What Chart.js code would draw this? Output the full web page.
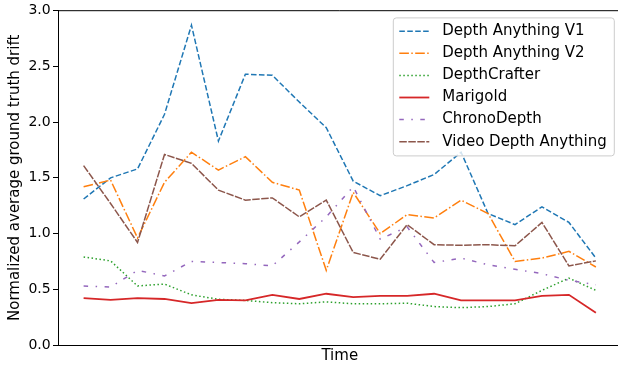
<!DOCTYPE html>
<html>
<head>
<meta charset="utf-8">
<script src="https://cdn.jsdelivr.net/npm/chart.js@4"></script>
<style>
  html, body { margin: 0; padding: 0; background: #fff; overflow: hidden; width: 618px; height: 366px; }
  canvas { display: block; }
</style>
</head>
<body>
<canvas id="driftChart" width="624" height="366"></canvas>
<script>
// time steps (no tick labels on the x axis)
const timeSteps = [1, 2, 3, 4, 5, 6, 7, 8, 9, 10, 11, 12, 13, 14, 15, 16, 17, 18, 19, 20];

const depthAnythingV1 = [1.31, 1.50, 1.58, 2.07, 2.87, 1.83, 2.43, 2.42, 2.18, 1.95, 1.47, 1.34, 1.43, 1.53, 1.73, 1.18, 1.08, 1.24, 1.10, 0.78];
const depthAnythingV2 = [1.42, 1.48, 0.96, 1.46, 1.73, 1.57, 1.69, 1.46, 1.39, 0.67, 1.37, 1.00, 1.17, 1.14, 1.30, 1.18, 0.75, 0.78, 0.84, 0.70];
const depthCrafter    = [0.79, 0.755, 0.53, 0.547, 0.45, 0.41, 0.40, 0.38, 0.37, 0.387, 0.37, 0.37, 0.375, 0.345, 0.335, 0.345, 0.37, 0.49, 0.60, 0.49];
const marigold        = [0.42, 0.405, 0.42, 0.413, 0.375, 0.405, 0.40, 0.45, 0.413, 0.46, 0.43, 0.44, 0.44, 0.46, 0.40, 0.40, 0.40, 0.44, 0.45, 0.29];
const chronoDepth     = [0.53, 0.52, 0.67, 0.62, 0.75, 0.74, 0.73, 0.71, 0.925, 1.15, 1.42, 0.95, 1.06, 0.74, 0.78, 0.72, 0.68, 0.64, 0.58, 0.54];
const videoDepthAny   = [1.61, 1.27, 0.92, 1.71, 1.63, 1.39, 1.30, 1.32, 1.15, 1.30, 0.83, 0.77, 1.08, 0.90, 0.895, 0.90, 0.89, 1.10, 0.71, 0.755];

const seriesNames = ['Depth Anything V1', 'Depth Anything V2', 'DepthCrafter', 'Marigold', 'ChronoDepth', 'Video Depth Anything'];
const seriesValues = [depthAnythingV1, depthAnythingV2, depthCrafter, marigold, chronoDepth, videoDepthAny];

const FONT = 'DejaVu Sans';
const styles = [
    { color: '#1f77b4', dash: [5.55, 2.4], width: 1.5 },
    { color: '#ff7f0e', dash: [9.6, 2.4, 1.5, 2.4], width: 1.5 },
    { color: '#2ca02c', dash: [1.5, 2.5], width: 1.5 },
    { color: '#d62728', dash: [], width: 1.8 },
    { color: '#9467bd', dash: [4.5, 7.5, 1.5, 7.5], width: 1.5 },
    { color: '#8c564b', dash: [7.5, 1.5], width: 1.5 },
];

const datasets = seriesNames.map((name, i) => ({
    label: name,
    data: seriesValues[i].map((v, j) => ({ x: timeSteps[j], y: v })),
    borderColor: styles[i].color,
    borderDash: styles[i].dash,
    borderWidth: styles[i].width,
    pointRadius: 0,
    fill: false,
    tension: 0,
    order: seriesNames.length - 1 - i, // later series on top, like matplotlib
}));

// top/right spines and a matplotlib-like legend box
const frameAndLegend = {
    id: 'frameAndLegend',
    afterDraw(chart) {
        const { ctx, chartArea: a } = chart;
        ctx.save();
        ctx.strokeStyle = '#000';
        ctx.lineWidth = 1;
        ctx.beginPath();
        ctx.moveTo(a.left, a.top);
        ctx.lineTo(a.right, a.top);
        ctx.lineTo(a.right, a.bottom);
        ctx.stroke();

        const boxW = 221, boxH = 138;
        const bx = a.right - 7.2 - boxW, by = a.top + 7.2;
        ctx.beginPath();
        ctx.roundRect(bx, by, boxW, boxH, 3);
        ctx.fillStyle = 'rgba(255,255,255,0.8)';
        ctx.fill();
        ctx.strokeStyle = '#cccccc';
        ctx.stroke();

        ctx.font = '15px "' + FONT + '"';
        ctx.textBaseline = 'middle';
        ctx.textAlign = 'left';
        seriesNames.forEach((name, i) => {
            const cy = by + 13.3 + i * 22.1;
            ctx.beginPath();
            ctx.setLineDash(styles[i].dash);
            ctx.lineWidth = styles[i].width;
            ctx.strokeStyle = styles[i].color;
            ctx.moveTo(bx + 6, cy);
            ctx.lineTo(bx + 36, cy);
            ctx.stroke();
            ctx.setLineDash([]);
            ctx.fillStyle = '#000';
            ctx.fillText(name, bx + 49, cy);
        });
        ctx.restore();
    }
};

const ctx = document.getElementById('driftChart').getContext('2d');
new Chart(ctx, {
    type: 'line',
    data: { datasets },
    options: {
        responsive: false,
        animation: false,
        devicePixelRatio: 1,
        layout: { padding: { left: 0, top: 9.5, right: 2.5, bottom: 0 } },
        plugins: {
            legend: { display: false },
            tooltip: { enabled: false },
        },
        scales: {
            x: {
                type: 'linear',
                min: 0.05,
                max: 20.95,
                ticks: { display: false },
                grid: { display: false },
                border: { display: true, color: '#000', width: 1 },
                title: {
                    display: true,
                    text: 'Time',
                    color: '#000',
                    font: { family: FONT, size: 15 },
                    padding: { top: 0, bottom: 1 },
                },
                afterFit: (s) => { s.height = 21; },
            },
            y: {
                min: 0,
                max: 3,
                ticks: {
                    stepSize: 0.5,
                    color: '#000',
                    font: { family: FONT, size: 14 },
                    padding: 2.3,
                    callback: (v) => v.toFixed(1),
                },
                grid: { drawOnChartArea: false, drawTicks: true, tickLength: 5, color: '#000', lineWidth: 1 },
                border: { display: true, color: '#000', width: 1 },
                title: {
                    display: true,
                    text: 'Normalized average ground truth drift',
                    color: '#000',
                    font: { family: FONT, size: 15 },
                    padding: { top: 6.5, bottom: 0 },
                },
                afterFit: (s) => { s.width = 58; },
            },
        },
    },
    plugins: [frameAndLegend],
});
</script>
</body>
</html>
